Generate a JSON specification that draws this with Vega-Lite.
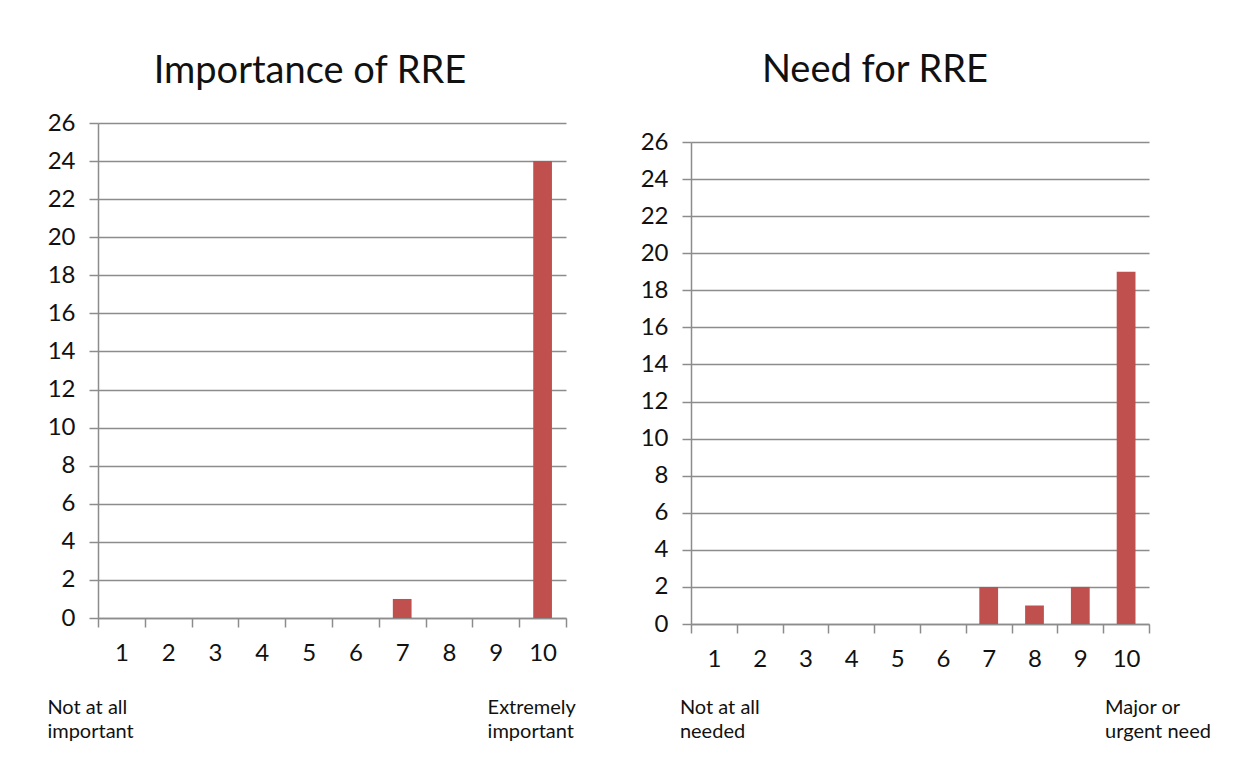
{
  "$schema": "https://vega.github.io/schema/vega-lite/v6.json",
  "padding": {"left": 47, "top": 52, "right": 0, "bottom": 0},
  "background": "white",
  "spacing": 64,
  "config": {
    "font": "Lato",
    "view": {"stroke": null},
    "axis": {
      "title": null,
      "labelFontSize": 24,
      "labelColor": "#111111",
      "domainColor": "#8c8c8c",
      "tickColor": "#8c8c8c",
      "gridColor": "#8c8c8c",
      "domainWidth": 1.5,
      "tickWidth": 1.5,
      "gridWidth": 1.5,
      "tickSize": 9,
      "labelPadding": 14
    },
    "axisX": {"labelAngle": 0, "tickBand": "extent", "grid": false},
    "axisY": {"grid": true, "values": [0, 2, 4, 6, 8, 10, 12, 14, 16, 18, 20, 22, 24, 26]},
    "title": {"fontSize": 38, "fontWeight": "normal", "color": "#111111", "anchor": "middle"},
    "text": {"fontSize": 20, "lineHeight": 24, "lineBreak": "\n", "align": "left", "baseline": "top", "color": "#111111"}
  },
  "hconcat": [
    {
      "width": 468,
      "height": 495,
      "title": {"text": "Importance of RRE", "offset": 20, "dx": -22},
      "layer": [
        {
          "data": {"values": [
            {"score": "1", "count": 0}, {"score": "2", "count": 0}, {"score": "3", "count": 0},
            {"score": "4", "count": 0}, {"score": "5", "count": 0}, {"score": "6", "count": 0},
            {"score": "7", "count": 1}, {"score": "8", "count": 0}, {"score": "9", "count": 0},
            {"score": "10", "count": 24}
          ]},
          "mark": {"type": "bar", "color": "#c0504d", "width": {"band": 0.4}},
          "encoding": {
            "x": {"field": "score", "type": "ordinal", "sort": null, "scale": {"paddingInner": 0, "paddingOuter": 0}},
            "y": {"field": "count", "type": "quantitative", "scale": {"domain": [0, 26], "nice": false}}
          }
        },
        {
          "data": {"values": [
            {"score": "1", "label": "Not at all\nimportant"},
            {"score": "10", "label": "Extremely\nimportant"}
          ]},
          "transform": [{"filter": "datum.score == '1'"}],
          "mark": {"type": "text", "dx": -74, "dy": 80},
          "encoding": {
            "x": {"field": "score", "type": "ordinal", "sort": null},
            "y": {"datum": 0},
            "text": {"field": "label"}
          }
        },
        {
          "data": {"values": [
            {"score": "1", "label": "Not at all\nimportant"},
            {"score": "10", "label": "Extremely\nimportant"}
          ]},
          "transform": [{"filter": "datum.score == '10'"}],
          "mark": {"type": "text", "dx": -55, "dy": 80},
          "encoding": {
            "x": {"field": "score", "type": "ordinal", "sort": null},
            "y": {"datum": 0},
            "text": {"field": "label"}
          }
        }
      ]
    },
    {
      "width": 458,
      "height": 501,
      "title": {"text": "Need for RRE", "offset": 33, "dx": -45},
      "layer": [
        {
          "data": {"values": [
            {"score": "1", "count": 0}, {"score": "2", "count": 0}, {"score": "3", "count": 0},
            {"score": "4", "count": 0}, {"score": "5", "count": 0}, {"score": "6", "count": 0},
            {"score": "7", "count": 2}, {"score": "8", "count": 1}, {"score": "9", "count": 2},
            {"score": "10", "count": 19}
          ]},
          "mark": {"type": "bar", "color": "#c0504d", "width": {"band": 0.41}},
          "encoding": {
            "x": {"field": "score", "type": "ordinal", "sort": null, "scale": {"paddingInner": 0, "paddingOuter": 0}},
            "y": {"field": "count", "type": "quantitative", "scale": {"domain": [0, 26], "nice": false, "range": [501, 19]}}
          }
        },
        {
          "data": {"values": [
            {"score": "1", "label": "Not at all\nneeded"},
            {"score": "10", "label": "Major or\nurgent need"}
          ]},
          "transform": [{"filter": "datum.score == '1'"}],
          "mark": {"type": "text", "dx": -34, "dy": 74},
          "encoding": {
            "x": {"field": "score", "type": "ordinal", "sort": null},
            "y": {"datum": 0},
            "text": {"field": "label"}
          }
        },
        {
          "data": {"values": [
            {"score": "1", "label": "Not at all\nneeded"},
            {"score": "10", "label": "Major or\nurgent need"}
          ]},
          "transform": [{"filter": "datum.score == '10'"}],
          "mark": {"type": "text", "dx": -21, "dy": 74},
          "encoding": {
            "x": {"field": "score", "type": "ordinal", "sort": null},
            "y": {"datum": 0},
            "text": {"field": "label"}
          }
        }
      ]
    }
  ]
}
